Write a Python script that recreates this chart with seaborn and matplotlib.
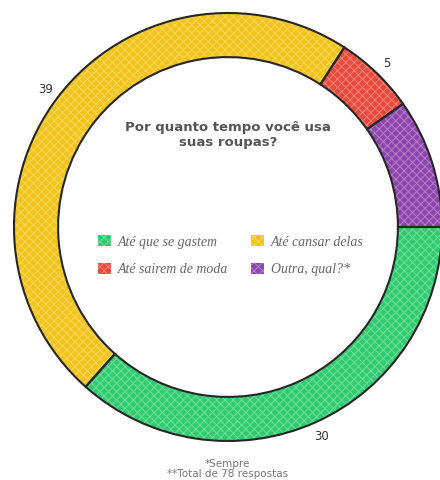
import matplotlib
matplotlib.use("Agg")
import matplotlib.pyplot as plt
from matplotlib.patches import Patch
import numpy as np
import seaborn as sns

# Survey answers, drawn clockwise from 3 o'clock
categories = ["Até que se gastem", "Até cansar delas", "Até sairem de moda", "Outra, qual?*"]
counts = [30, 39, 5, 8]
colors = ["#2fcc6f", "#f2c318", "#e8493a", "#8e44ad"]

title = "Por quanto tempo você usa\nsuas roupas?"
footnote = "*Sempre\n**Total de 78 respostas"

sns.set_theme(style="white")
plt.rcParams["hatch.linewidth"] = 0.7

fig = plt.figure(figsize=(4.4, 4.81), dpi=100)
ax = fig.add_axes([0, 0, 1, 1])

ring = dict(width=0.206)
# solid fill
wedges, _ = ax.pie(counts, colors=colors, startangle=0, counterclock=False,
                   radius=1.0, wedgeprops=dict(ring, linewidth=0))
# crayon-like texture on top of the fill
ax.pie(counts, colors=["none"] * len(counts), startangle=0, counterclock=False,
       radius=1.0, wedgeprops=dict(ring, linewidth=0, hatch="xxxx",
                                   edgecolor=(1, 1, 1, 0.32)))
# dark outlines
ax.pie(counts, colors=["none"] * len(counts), startangle=0, counterclock=False,
       radius=1.0, wedgeprops=dict(ring, linewidth=1.5, edgecolor="#262626"))

# px-per-unit equal on both axes: centre at (228, 228) px, outer radius 214 px
ax.set_aspect("auto")
xlim = (-228 / 214, (440 - 228) / 214)
ylim = (-(481 - 228) / 214, 228 / 214)
ax.set_xlim(*xlim)
ax.set_ylim(*ylim)
ax.axis("off")

# value labels just outside the ring (only where they land on the canvas)
for w, n in zip(wedges, counts):
    mid = np.deg2rad((w.theta1 + w.theta2) / 2)
    x, y = 1.07 * np.cos(mid), 1.07 * np.sin(mid)
    if x + 0.05 > xlim[1]:
        continue
    ax.text(x, y, str(n), ha="center", va="center", fontsize=8.5,
            color="#333333")

ax.text(0, 0.435, title, ha="center", va="center", fontsize=9.5,
        fontweight="bold", color="#555555", linespacing=1.12)

order = [0, 2, 1, 3]
handles = [Patch(facecolor=colors[i], edgecolor=(1, 1, 1, 0.32), hatch="xxxx",
                 linewidth=0, label=categories[i]) for i in order]
leg = fig.legend(handles=handles, loc="center", bbox_to_anchor=(0.525, 0.468),
                 ncol=2, frameon=False, fontsize=8.5, handlelength=1.1,
                 handleheight=1.1, handletextpad=0.6, columnspacing=1.9,
                 labelspacing=1.25)
for t in leg.get_texts():
    t.set_color("#666666")
    t.set_fontstyle("italic")
    t.set_family("Liberation Serif")
    t.set_fontsize(10)

fig.text(0.518, 1 - 469 / 481, footnote, ha="center", va="center",
         fontsize=7.5, color="#777777", linespacing=1.0)

fig.savefig("out.png", dpi=100)
